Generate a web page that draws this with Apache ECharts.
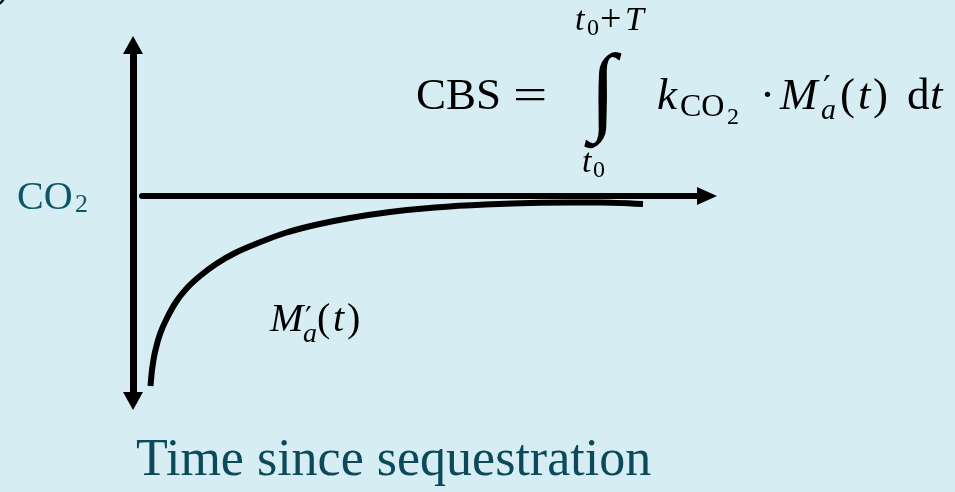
<!DOCTYPE html>
<html>
<head>
<meta charset="utf-8">
<script src="https://cdn.jsdelivr.net/npm/echarts@6/dist/echarts.min.js"></script>
<style>
  html, body { margin: 0; padding: 0; background: #d6edf4; }
  #main { width: 955px; height: 492px; }
</style>
</head>
<body>
<div id="main"></div>
<script>
// curve M'a(t): time since sequestration vs CO2 flux (axis units)
const curveX = [8.5, 10, 13, 18, 25, 34, 45, 58, 74, 93, 116, 143, 173, 208, 248, 293, 343, 398, 458, 501];
const curveY = [-190, -174, -156, -138, -122, -106, -92, -80, -68, -57, -47, -37, -29, -22, -16, -11.5, -8.5, -6.8, -6.5, -8];
const xRange = [0, 565];
const yRange = [-205, 151];

const SERIF = '"Liberation Serif", "Times New Roman", serif';

// text placed by its baseline
function T(x, base, text, size, opt) {
  opt = opt || {};
  return {
    type: 'text',
    x: x,
    y: base - 0.34 * size,
    scaleX: opt.sx || 1,
    scaleY: opt.sy || 1,
    z: 10,
    style: {
      text: text,
      fontSize: size,
      fontFamily: opt.family || SERIF,
      fontStyle: opt.italic ? 'italic' : 'normal',
      fill: opt.color || '#000',
      align: opt.align || 'left',
      verticalAlign: 'middle',
      textAlign: opt.align || 'left',
      textVerticalAlign: 'middle'
    }
  };
}

const chart = echarts.init(document.getElementById('main'));

const option = {
  backgroundColor: '#d6edf4',
  animation: false,
  grid: { left: 142, right: 248, top: 45, bottom: 91 },
  xAxis: {
    type: 'value',
    min: xRange[0],
    max: xRange[1],
    axisLine: {
      show: true,
      onZero: true,
      symbol: ['none', 'triangle'],
      symbolSize: [18, 20],
      lineStyle: { color: '#000', width: 6 }
    },
    axisTick: { show: false },
    axisLabel: { show: false },
    splitLine: { show: false }
  },
  yAxis: {
    type: 'value',
    min: yRange[0],
    max: yRange[1],
    offset: 9,
    axisLine: {
      show: true,
      onZero: false,
      symbol: ['triangle', 'triangle'],
      symbolSize: [20, 18],
      lineStyle: { color: '#000', width: 7 }
    },
    axisTick: { show: false },
    axisLabel: { show: false },
    splitLine: { show: false }
  },
  series: [{
    type: 'line',
    data: curveX.map((x, i) => [x, curveY[i]]),
    smooth: 0.25,
    showSymbol: false,
    clip: false,
    lineStyle: { color: '#000', width: 6, cap: 'butt' }
  }],
  graphic: [
    T(-3, 2, ')', 40, { italic: true }),
    // y label
    T(17, 212, 'CO', 40, { color: '#0f5668' }),
    T(75, 214, '2', 26, { color: '#0f5668' }),
    // x label
    T(136, 479, 'Time since sequestration', 52, { color: '#0c4a5a' }),
    // formula
    T(416, 112, 'CBS', 45),
    T(513, 112, '=', 45, { sx: 1.35 }),
    T(603, 130, '\u222B', 98, { align: 'center' }),
    T(575, 33, 't', 34, { italic: true }),
    T(587, 37, '0', 24),
    T(600, 34, '+', 38),
    T(625, 33, 'T', 34, { italic: true }),
    T(582, 175, 't', 34, { italic: true }),
    T(593, 179, '0', 24),
    T(657, 112, 'k', 45, { italic: true }),
    T(680, 118, 'CO', 32),
    T(727, 126, '2', 24),
    T(760, 112, '\u00B7', 45),
    T(780, 112, 'M', 45, { italic: true }),
    T(823, 103, '\u2032', 34, { family: '"DejaVu Serif"' }),
    T(821, 121, 'a', 30, { italic: true }),
    T(840, 112, '(', 45),
    T(858, 112, 't', 45, { italic: true }),
    T(873, 112, ')', 45),
    T(907, 112, 'd', 45),
    T(930, 112, 't', 45, { italic: true }),
    // curve label
    T(270, 334, 'M', 40, { italic: true }),
    T(305, 330, '\u2032', 30, { family: '"DejaVu Serif"' }),
    T(303, 344, 'a', 28, { italic: true }),
    T(317, 334, '(', 40),
    T(333, 334, 't', 40, { italic: true }),
    T(347, 334, ')', 40)
  ]
};

chart.setOption(option);
</script>
</body>
</html>
